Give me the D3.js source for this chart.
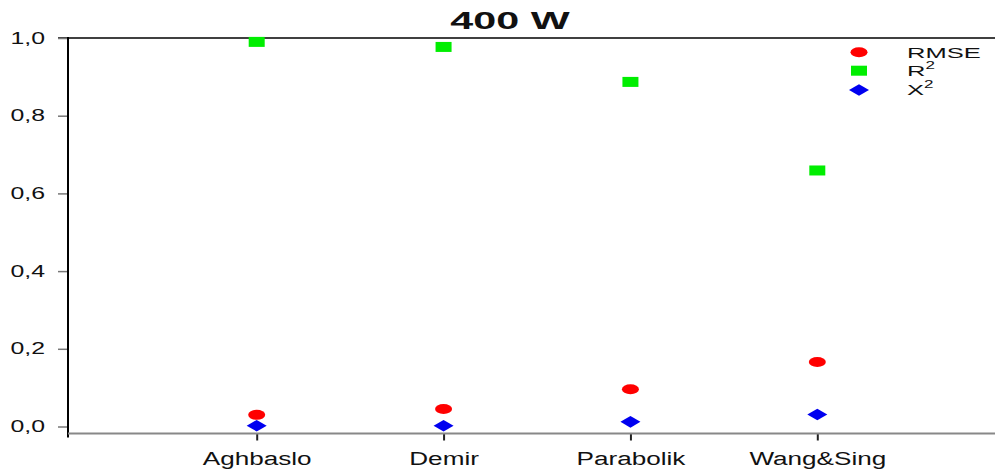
<!DOCTYPE html>
<html>
<head>
<meta charset="utf-8">
<script src="https://cdn.jsdelivr.net/npm/d3@7"></script>
<style>
  html, body { margin: 0; padding: 0; background: #fff; }
  svg { display: block; }
  text { font-family: "Liberation Sans", Arial, sans-serif; fill: #111; }
</style>
</head>
<body>
<svg id="chart" width="995" height="470"></svg>
<script>
// Fit statistics of the drying models at 400 W
const models = ["Aghbaslo", "Demir", "Parabolik", "Wang&Sing"];
const rmse = [0.030, 0.045, 0.096, 0.166];
const r2 = [0.990, 0.977, 0.887, 0.659];
const chi2 = [0.002, 0.002, 0.012, 0.031];
const yTicks = [0, 0.2, 0.4, 0.6, 0.8, 1.0];
const title = "400 W";

const svg = d3.select("#chart");
const W = 995;

const x = d3.scalePoint().domain(models).range([256.7, 817.3]);
const y = d3.scaleLinear().domain([0, 1]).range([426.5, 38]);

const axisX = 68, baseY = 433.5;

// Stretch text horizontally to a given factor of its natural width
function widen(sel, k) {
  sel.each(function () {
    const w = this.getComputedTextLength();
    d3.select(this).attr("textLength", w * k).attr("lengthAdjust", "spacingAndGlyphs");
  });
}

// Title
svg.append("text")
  .attr("x", 510).attr("y", 29)
  .attr("text-anchor", "middle")
  .style("font-size", "24px").style("font-weight", "bold")
  .text(title)
  .call(widen, 1.72);

// Top frame line
svg.append("line")
  .attr("x1", 58).attr("x2", W)
  .attr("y1", y(1)).attr("y2", y(1))
  .attr("stroke", "#000").attr("stroke-width", 1.6);

// Y axis
const gy = svg.append("g")
  .attr("transform", `translate(${axisX},0)`)
  .call(d3.axisLeft(y).tickValues(yTicks).tickSize(10).tickPadding(13)
    .tickFormat(d => d3.format(".1f")(d).replace(".", ",")));
gy.select(".domain").remove();
gy.selectAll(".tick line").attr("stroke", "#777").attr("stroke-width", 1.5);
gy.selectAll(".tick text")
  .style("font-size", "16px").style("font-family", "Liberation Sans, Arial, sans-serif")
  .attr("fill", "#111")
  .call(widen, 1.55);

svg.append("line")
  .attr("x1", axisX).attr("x2", axisX)
  .attr("y1", y(1) - 1).attr("y2", baseY + 4)
  .attr("stroke", "#000").attr("stroke-width", 2);

// X axis
const gx = svg.append("g")
  .attr("transform", `translate(0,${baseY})`)
  .call(d3.axisBottom(x).tickSize(7).tickPadding(12).tickSizeOuter(0));
gx.select(".domain").remove();
svg.append("line")
  .attr("x1", axisX).attr("x2", W)
  .attr("y1", baseY).attr("y2", baseY)
  .attr("stroke", "#888").attr("stroke-width", 2);
gx.selectAll(".tick line").attr("stroke", "#222").attr("stroke-width", 2);
gx.selectAll(".tick text")
  .style("font-size", "18px").style("font-family", "Liberation Sans, Arial, sans-serif")
  .attr("fill", "#111")
  .call(widen, 1.45);

// Marker shapes
const ellipse = (g, cx, cy) => g.append("ellipse").attr("cx", cx).attr("cy", cy)
  .attr("rx", 8.5).attr("ry", 5).attr("fill", "#ff0000");
const rect = (g, cx, cy) => g.append("rect").attr("x", cx - 8).attr("y", cy - 5)
  .attr("width", 16).attr("height", 10).attr("fill", "#00ee00");
const diamond = (g, cx, cy) => g.append("path")
  .attr("d", `M${cx - 10},${cy} L${cx},${cy - 5.8} L${cx + 10},${cy} L${cx},${cy + 5.8} Z`)
  .attr("fill", "#0000f0");

const marks = svg.append("g");
models.forEach((m, i) => {
  rect(marks, x(m), y(r2[i]));
  ellipse(marks, x(m), y(rmse[i]));
  diamond(marks, x(m), y(chi2[i]));
});

// Legend
const leg = svg.append("g");
const legendItems = [
  { draw: ellipse, cy: 52.3, label: "RMSE", sup: null },
  { draw: rect, cy: 70.7, label: "R", sup: "2" },
  { draw: diamond, cy: 90, label: "X", sup: "2" }
];
legendItems.forEach(it => {
  it.draw(leg, 859, it.cy);
  const t = leg.append("text")
    .attr("x", 907).attr("y", it.cy + 5.3)
    .style("font-size", "15px");
  t.append("tspan").text(it.label);
  if (it.sup) {
    t.append("tspan").attr("dy", -7).style("font-size", "10px").text(it.sup);
  }
  t.call(widen, 1.7);
});
</script>
</body>
</html>
